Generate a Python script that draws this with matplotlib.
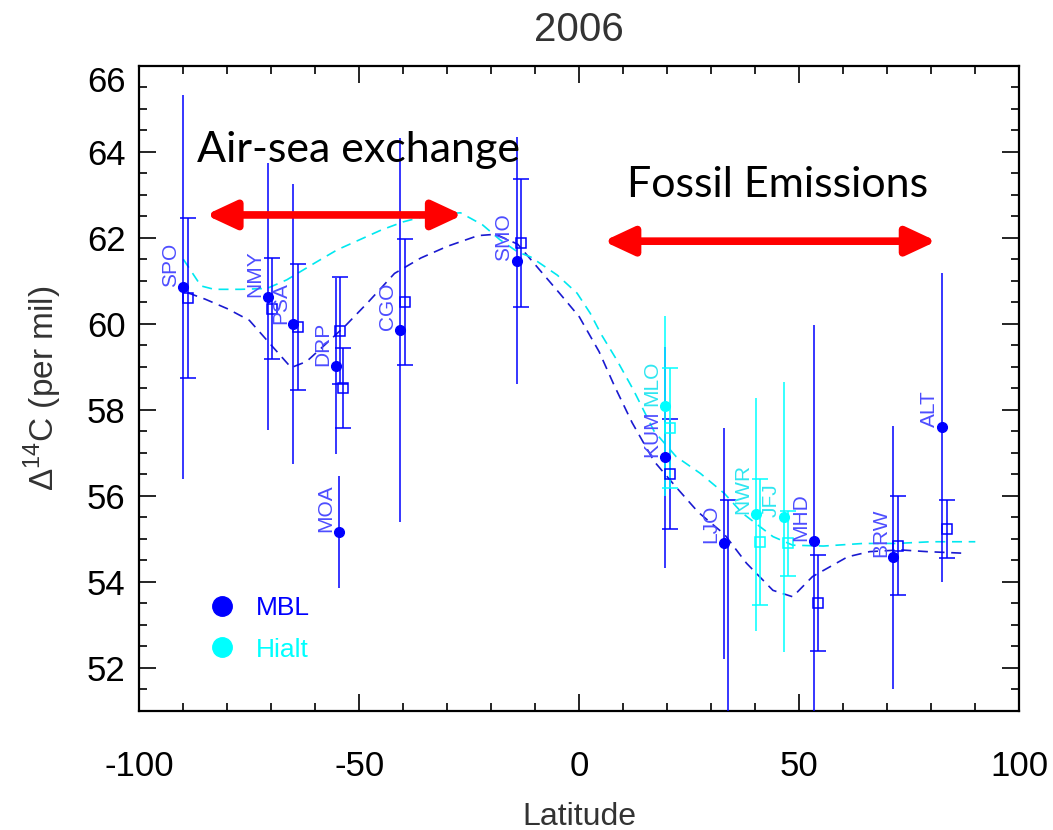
import matplotlib
matplotlib.use("Agg")
import matplotlib.pyplot as plt
from matplotlib.lines import Line2D
from matplotlib.ticker import MultipleLocator, FuncFormatter

plt.rcParams['font.family'] = ['Liberation Sans', 'DejaVu Sans']
plt.rcParams['mathtext.fontset'] = 'custom'
plt.rcParams['mathtext.rm'] = 'Liberation Sans'
plt.rcParams['axes.unicode_minus'] = False

# station observations (filled circles) and model values (open squares)
stations = ['SPO', 'NMY', 'PSA', 'DRP', 'MOA', 'CGO', 'SMO', 'KUM', 'MLO',
            'LJO', 'NWR', 'JFJ', 'MHD', 'BRW', 'ALT']
groups = ['MBL', 'MBL', 'MBL', 'MBL', 'MBL', 'MBL', 'MBL', 'MBL', 'Hialt',
          'MBL', 'Hialt', 'Hialt', 'MBL', 'MBL', 'MBL']
lat = [-90.0, -70.8, -65.0, -55.3, -54.6, -40.7, -14.2, 19.5, 19.5,
       32.9, 40.1, 46.5, 53.3, 71.4, 82.5]
obs = [60.85, 60.63, 59.99, 59.02, 55.16, 59.85, 61.47, 56.89, 58.09,
       54.89, 55.57, 55.51, 54.95, 54.57, 57.59]
obs_err = [4.47, 3.10, 3.26, 2.05, 1.30, 4.47, 2.88, 2.58, 2.10,
           2.69, 2.71, 3.14, 5.02, 3.06, 3.60]
model = [60.59, 60.35, 59.92, 59.84, 58.50, 60.51, 61.87, 56.50, 57.58,
         50.60, 54.92, 54.89, 53.50, 54.84, 55.22]
model_err = [1.86, 1.17, 1.47, 1.25, 0.93, 1.46, 1.49, 1.28, 1.40,
             5.30, 1.46, 0.76, 1.12, 1.15, 0.67]

# dashed latitudinal curves
mbl_curve_lat = [-89, -85, -80, -75, -70, -65.5, -62, -57.5, -53, -48, -42, -36,
                 -30, -23, -19, -14, -9, -4.5, 0, 4.5, 8, 12, 17, 22, 27, 33,
                 38, 44, 48.5, 53, 61, 66, 73, 79, 88]
mbl_curve = [60.72, 60.57, 60.35, 60.08, 59.5, 58.98, 59.12, 59.54, 59.97, 60.5,
             61.17, 61.53, 61.8, 62.05, 62.08, 61.85, 61.25, 60.71, 60.16, 59.35,
             58.55, 57.7, 56.8, 56.2, 55.62, 55.1, 54.43, 53.8, 53.65, 54.12,
             54.58, 54.7, 54.74, 54.7, 54.66]
hialt_curve_lat = [-90, -86, -83, -77, -71, -66.5, -60, -55, -50, -45, -40, -34,
                   -27, -22, -18, -14, -11, -5, -0.5, 2.5, 5, 8.5, 12.3, 17, 22,
                   27.5, 33, 37, 44, 48.5, 55.5, 64.5, 72, 80, 90]
hialt_curve = [61.5, 60.88, 60.8, 60.8, 60.82, 61.02, 61.42, 61.72, 61.95, 62.18,
               62.37, 62.53, 62.58, 62.3, 61.95, 61.67, 61.55, 61.13, 60.71, 60.24,
               59.75, 59.16, 58.46, 57.5, 56.91, 56.52, 56.05, 55.6, 55.05, 54.85,
               54.83, 54.89, 54.89, 54.93, 54.93]

colors = {'MBL': '#0000ff', 'Hialt': '#00ffff'}
label_colors = {'MBL': '#4d4dff', 'Hialt': '#2ee6f0'}

fig = plt.figure(figsize=(10.53, 8.30), dpi=100)
ax = fig.add_axes([0.1323, 0.1437, 0.8357, 0.7771])

ax.plot(mbl_curve_lat, mbl_curve, color='#1a1ad0', lw=1.2, dashes=(6, 4), zorder=2)
ax.plot(hialt_curve_lat, hialt_curve, color='#00e8f0', lw=1.2, dashes=(6, 4), zorder=2)

for name, g, x, y, e, m, me in zip(stations, groups, lat, obs, obs_err, model, model_err):
    c = colors[g]
    ax.errorbar(x, y, yerr=e, fmt='none', ecolor=c, elinewidth=1.1, zorder=3)
    ax.errorbar(x + 1, m, yerr=me, fmt='s', mfc='none', mec=c, mew=1.1, ms=7,
                ecolor=c, elinewidth=1.1, capsize=6, capthick=1.1, zorder=3)
    ax.plot(x, y, 'o', color=c, ms=7, zorder=4)
    ax.annotate(name, (x, y), xytext=(-2.5, 0), textcoords='offset points',
                rotation=90, ha='right', va='bottom', fontsize=15,
                color=label_colors[g], zorder=5)

# annotation arrows and text
arrow = dict(arrowstyle='<|-|>,head_length=0.9,head_width=0.42', color='red',
             lw=5.5, mutation_scale=20, shrinkA=0, shrinkB=0)
ax.annotate('', xy=(-26.5, 62.53), xytext=(-84.9, 62.53), arrowprops=arrow)
ax.annotate('', xy=(81.2, 61.92), xytext=(5.5, 61.92), arrowprops=arrow)
ax.text(-86.9, 64.03, 'Air-sea exchange', fontsize=31, family='Lato',
        va='center', ha='left', color='black')
ax.text(10.9, 63.22, 'Fossil Emissions', fontsize=31, family='Lato',
        va='center', ha='left', color='black')

handles = [Line2D([], [], ls='none', marker='o', ms=14, color=colors['MBL']),
           Line2D([], [], ls='none', marker='o', ms=14, color=colors['Hialt'])]
ax.legend(handles, ['MBL', 'Hialt'], loc='center left', bbox_to_anchor=(0.079, 0.127),
          frameon=False, fontsize=19, handlelength=1.0, handletextpad=0.8,
          borderpad=0, borderaxespad=0, labelspacing=0.66,
          labelcolor=[colors['MBL'], colors['Hialt']])

ax.set_xlim(-100, 100)
ax.set_ylim(51, 66)
ax.xaxis.set_major_locator(MultipleLocator(50))
ax.xaxis.set_minor_locator(MultipleLocator(10))
ax.yaxis.set_major_locator(MultipleLocator(2))
ax.yaxis.set_minor_locator(MultipleLocator(0.5))
# the top label sits a little below its tick in the original, drawn separately
ax.yaxis.set_major_formatter(FuncFormatter(lambda v, p: '' if v >= 65.9 else '%d' % v))
ax.annotate('66', xy=(0, 66), xycoords=ax.get_yaxis_transform(), xytext=(-10, -12),
            textcoords='offset points', ha='right', va='center', fontsize=25)
ax.tick_params(which='both', direction='in', top=True, right=True, width=1.2)
ax.tick_params(which='major', length=12)
ax.tick_params(which='minor', length=6)
ax.tick_params(axis='x', which='major', pad=28, labelsize=25)
ax.tick_params(axis='y', which='major', pad=10, labelsize=25)
for s in ax.spines.values():
    s.set_linewidth(1.6)

ax.set_xlabel('Latitude', fontsize=23, color='#333333', labelpad=14)
ax.set_ylabel(r'$\Delta^{14}$C (per mil)', fontsize=24, color='#333333', labelpad=16)
ax.set_title('2006', fontsize=29, color='#333333', pad=18)

fig.savefig('out.png', dpi=100)
